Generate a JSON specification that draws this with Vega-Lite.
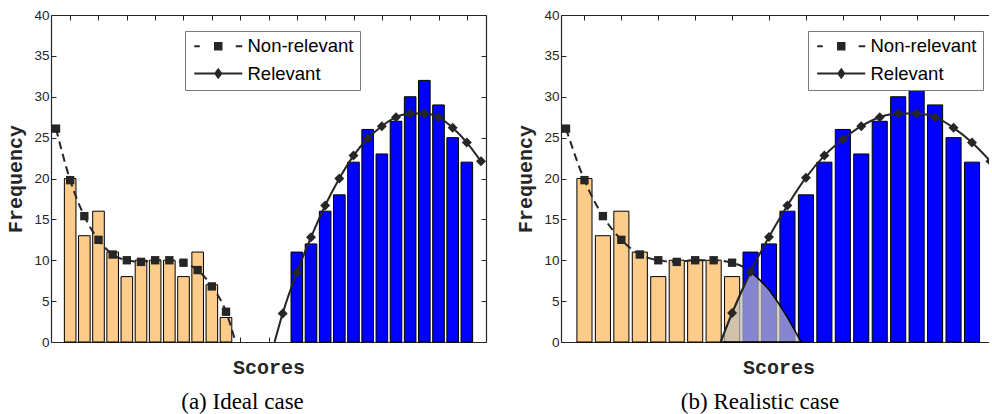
{
  "$schema": "https://vega.github.io/schema/vega-lite/v6.json",
  "padding": {"left": 5, "top": 8, "right": 0, "bottom": 0},
  "background": "white",
  "spacing": 28,
  "config": {
    "view": {"stroke": null},
    "axis": {
      "domainColor": "#262626", "domainWidth": 1.2, "tickColor": "#262626", "tickWidth": 1,
      "labelFont": "Liberation Sans", "labelFontSize": 13.5, "labelColor": "#262626",
      "titleFont": "Liberation Mono", "titleFontWeight": "bold", "titleFontSize": 20, "titleColor": "#262626",
      "grid": false
    },
    "legend": {
      "orient": "none", "title": null, "fillColor": "#ffffff", "strokeColor": "#7a7a7a",
      "padding": 6, "symbolSize": 100, "symbolOffset": 18, "labelOffset": 20, "rowPadding": 8.3,
      "labelFont": "Liberation Sans", "labelFontSize": 18.5, "labelColor": "#000000", "labelLimit": 300,
      "symbolStrokeWidth": 0, "symbolFillColor": "#262626", "symbolOpacity": 1, "zindex": 1
    }
  },
  "datasets": {
    "bars_a": [
      {"x": 1, "v": 20, "group": "Non-relevant"}, {"x": 2, "v": 13, "group": "Non-relevant"},
      {"x": 3, "v": 16, "group": "Non-relevant"}, {"x": 4, "v": 11, "group": "Non-relevant"},
      {"x": 5, "v": 8, "group": "Non-relevant"}, {"x": 6, "v": 10, "group": "Non-relevant"},
      {"x": 7, "v": 10, "group": "Non-relevant"}, {"x": 8, "v": 10, "group": "Non-relevant"},
      {"x": 9, "v": 8, "group": "Non-relevant"}, {"x": 10, "v": 11, "group": "Non-relevant"},
      {"x": 11, "v": 7, "group": "Non-relevant"}, {"x": 12, "v": 3, "group": "Non-relevant"},
      {"x": 17, "v": 11, "group": "Relevant"}, {"x": 18, "v": 12, "group": "Relevant"},
      {"x": 19, "v": 16, "group": "Relevant"}, {"x": 20, "v": 18, "group": "Relevant"},
      {"x": 21, "v": 22, "group": "Relevant"}, {"x": 22, "v": 26, "group": "Relevant"},
      {"x": 23, "v": 23, "group": "Relevant"}, {"x": 24, "v": 27, "group": "Relevant"},
      {"x": 25, "v": 30, "group": "Relevant"}, {"x": 26, "v": 32, "group": "Relevant"},
      {"x": 27, "v": 29, "group": "Relevant"}, {"x": 28, "v": 25, "group": "Relevant"},
      {"x": 29, "v": 22, "group": "Relevant"}
    ],
    "bars_b": [
      {"x": 1, "v": 20, "group": "Non-relevant"}, {"x": 2, "v": 13, "group": "Non-relevant"},
      {"x": 3, "v": 16, "group": "Non-relevant"}, {"x": 4, "v": 11, "group": "Non-relevant"},
      {"x": 5, "v": 8, "group": "Non-relevant"}, {"x": 6, "v": 10, "group": "Non-relevant"},
      {"x": 7, "v": 10, "group": "Non-relevant"}, {"x": 8, "v": 10, "group": "Non-relevant"},
      {"x": 9, "v": 8, "group": "Non-relevant"},
      {"x": 10, "v": 11, "group": "Relevant"}, {"x": 11, "v": 12, "group": "Relevant"},
      {"x": 12, "v": 16, "group": "Relevant"}, {"x": 13, "v": 18, "group": "Relevant"},
      {"x": 14, "v": 22, "group": "Relevant"}, {"x": 15, "v": 26, "group": "Relevant"},
      {"x": 16, "v": 23, "group": "Relevant"}, {"x": 17, "v": 27, "group": "Relevant"},
      {"x": 18, "v": 30, "group": "Relevant"}, {"x": 19, "v": 32, "group": "Relevant"},
      {"x": 20, "v": 29, "group": "Relevant"}, {"x": 21, "v": 25, "group": "Relevant"},
      {"x": 22, "v": 22, "group": "Relevant"}
    ],
    "nonrel_a": [
      {"x": 0, "v": 26.1, "marker": true}, {"x": 1, "v": 19.8, "marker": true},
      {"x": 2, "v": 15.4, "marker": true}, {"x": 3, "v": 12.5, "marker": true},
      {"x": 4, "v": 10.7, "marker": true}, {"x": 5, "v": 10.0, "marker": true},
      {"x": 6, "v": 9.8, "marker": true}, {"x": 7, "v": 10.0, "marker": true},
      {"x": 8, "v": 10.0, "marker": true}, {"x": 9, "v": 9.7, "marker": true},
      {"x": 10, "v": 8.8, "marker": true}, {"x": 11, "v": 6.8, "marker": true},
      {"x": 12, "v": 3.7, "marker": true}, {"x": 12.67, "v": 0, "marker": false}
    ],
    "rel_a": [
      {"x": 15.43, "v": 0, "marker": false}, {"x": 16, "v": 3.5, "marker": true},
      {"x": 17, "v": 8.5, "marker": true}, {"x": 18, "v": 12.8, "marker": true},
      {"x": 19, "v": 16.7, "marker": true}, {"x": 20, "v": 20.0, "marker": true},
      {"x": 21, "v": 22.8, "marker": true}, {"x": 22, "v": 24.9, "marker": true},
      {"x": 23, "v": 26.4, "marker": true}, {"x": 24, "v": 27.5, "marker": true},
      {"x": 25, "v": 27.95, "marker": true}, {"x": 26, "v": 27.95, "marker": true},
      {"x": 27, "v": 27.5, "marker": true}, {"x": 28, "v": 26.2, "marker": true},
      {"x": 29, "v": 24.4, "marker": true}, {"x": 30, "v": 22.1, "marker": true}
    ],
    "nonrel_b": [
      {"x": 0, "v": 26.1, "marker": true}, {"x": 1, "v": 19.8, "marker": true},
      {"x": 2, "v": 15.4, "marker": true}, {"x": 3, "v": 12.5, "marker": true},
      {"x": 4, "v": 10.7, "marker": true}, {"x": 5, "v": 10.0, "marker": true},
      {"x": 6, "v": 9.8, "marker": true}, {"x": 7, "v": 10.0, "marker": true},
      {"x": 8, "v": 10.0, "marker": true}, {"x": 9, "v": 9.7, "marker": true},
      {"x": 9.6, "v": 9.2, "marker": false}
    ],
    "rel_b": [
      {"x": 8.38, "v": 0, "marker": false}, {"x": 9, "v": 3.55, "marker": true},
      {"x": 10, "v": 8.6, "marker": true}, {"x": 11, "v": 12.85, "marker": true},
      {"x": 12, "v": 16.7, "marker": true}, {"x": 13, "v": 20.1, "marker": true},
      {"x": 14, "v": 22.8, "marker": true}, {"x": 15, "v": 24.8, "marker": true},
      {"x": 16, "v": 26.4, "marker": true}, {"x": 17, "v": 27.5, "marker": true},
      {"x": 18, "v": 27.95, "marker": true}, {"x": 19, "v": 27.95, "marker": true},
      {"x": 20, "v": 27.5, "marker": true}, {"x": 21, "v": 26.2, "marker": true},
      {"x": 22, "v": 24.4, "marker": true}, {"x": 23, "v": 22.1, "marker": true}
    ],
    "overlap_b": [
      {"x": 8.38, "v": 0}, {"x": 9, "v": 3.55}, {"x": 10, "v": 8.6}, {"x": 10.5, "v": 7.6},
      {"x": 11, "v": 6.4}, {"x": 11.5, "v": 4.8}, {"x": 12, "v": 3.0}, {"x": 12.4, "v": 1.4},
      {"x": 12.74, "v": 0}
    ],
    "series": [{"series": "Non-relevant"}, {"series": "Relevant"}]
  },
  "resolve": {
    "scale": {"shape": "independent"},
    "legend": {"shape": "independent"}
  },
  "hconcat": [
    {
      "width": 435, "height": 327,
      "resolve": {"axis": {"x": "independent", "y": "independent"}},
      "title": {"text": "(a) Ideal case", "orient": "bottom", "anchor": "middle", "frame": "group", "font": "Liberation Serif", "fontSize": 23, "fontWeight": "normal", "color": "#000000", "offset": 13, "dx": -26},
      "layer": [
        {
          "data": {"name": "bars_a"},
          "transform": [{"filter": "datum.group === 'Non-relevant'"}],
          "mark": {"type": "bar", "width": 11.6, "fill": "#fdcc8a", "stroke": "#000000", "strokeWidth": 1},
          "encoding": {
            "x": {"field": "x", "type": "quantitative", "scale": {"domain": [0, 30], "nice": false, "zero": false},
                  "axis": {"orient": "bottom", "labels": false, "values": [1,3,5,7,9,11,13,15,17,19,21,23,25,27,29], "tickSize": -5, "title": "Scores", "titlePadding": 15}},
            "y": {"field": "v", "type": "quantitative", "scale": {"domain": [0, 40], "nice": false},
                  "axis": {"orient": "left", "values": [0,5,10,15,20,25,30,35,40], "tickSize": -5, "labelPadding": 7, "title": "Frequency", "titlePadding": 8}}
          }
        },
        {
          "data": {"name": "bars_a"},
          "transform": [{"filter": "datum.group === 'Relevant'"}],
          "mark": {"type": "bar", "width": 11.6, "fill": "#0000ff", "stroke": "#000000", "strokeWidth": 1},
          "encoding": {
            "x": {"field": "x", "type": "quantitative", "scale": {"domain": [0, 30], "nice": false, "zero": false}, "axis": null},
            "y": {"field": "v", "type": "quantitative", "scale": {"domain": [0, 40], "nice": false}, "axis": null}
          }
        },
        {
          "data": {"name": "nonrel_a"},
          "mark": {"type": "line", "color": "#262626", "strokeWidth": 2, "strokeDash": [8, 5], "interpolate": "monotone"},
          "encoding": {
            "x": {"field": "x", "type": "quantitative", "scale": {"domain": [0, 30], "nice": false, "zero": false},
                  "axis": {"orient": "top", "labels": false, "values": [1,3,5,7,9,11,13,15,17,19,21,23,25,27,29], "tickSize": -5, "title": null}},
            "y": {"field": "v", "type": "quantitative", "scale": {"domain": [0, 40], "nice": false},
                  "axis": {"orient": "right", "labels": false, "values": [0,5,10,15,20,25,30,35,40], "tickSize": -5, "title": null}}
          }
        },
        {
          "data": {"name": "nonrel_a"},
          "transform": [{"filter": "datum.marker"}],
          "mark": {"type": "point", "shape": "square", "filled": true, "size": 70, "color": "#262626", "opacity": 1},
          "encoding": {
            "x": {"field": "x", "type": "quantitative", "scale": {"domain": [0, 30], "nice": false, "zero": false}, "axis": null},
            "y": {"field": "v", "type": "quantitative", "scale": {"domain": [0, 40], "nice": false}, "axis": null}
          }
        },
        {
          "data": {"name": "rel_a"},
          "mark": {"type": "line", "color": "#262626", "strokeWidth": 2, "interpolate": "monotone"},
          "encoding": {
            "x": {"field": "x", "type": "quantitative", "scale": {"domain": [0, 30], "nice": false, "zero": false}, "axis": null},
            "y": {"field": "v", "type": "quantitative", "scale": {"domain": [0, 40], "nice": false}, "axis": null}
          }
        },
        {
          "data": {"name": "rel_a"},
          "transform": [{"filter": "datum.marker"}],
          "mark": {"type": "point", "shape": "diamond", "filled": true, "size": 100, "color": "#262626", "opacity": 1},
          "encoding": {
            "x": {"field": "x", "type": "quantitative", "scale": {"domain": [0, 30], "nice": false, "zero": false}, "axis": null},
            "y": {"field": "v", "type": "quantitative", "scale": {"domain": [0, 40], "nice": false}, "axis": null}
          }
        },
        {
          "data": {"name": "series"},
          "transform": [{"filter": "false"}],
          "mark": {"type": "point", "filled": true, "fill": "#262626", "opacity": 1},
          "encoding": {
            "shape": {"field": "series", "type": "nominal",
                      "scale": {"domain": ["Non-relevant", "Relevant"], "range": ["M-4.8,-0.2H-3.7V0.2H-4.8ZM3.5,-0.2H4.8V0.2H3.5ZM-0.85,-0.85H0.85V0.85H-0.85Z", "M-4.8,-0.2H4.8V0.2H-4.8ZM0,-1.15L0.85,0L0,1.15L-0.85,0Z"]},
                      "legend": {"orient": "none", "legendX": 134, "legendY": 16}}
          }
        }
      ]
    },
    {
      "width": 428, "height": 327,
      "resolve": {"axis": {"x": "independent", "y": "independent"}},
      "title": {"text": "(b) Realistic case", "orient": "bottom", "anchor": "middle", "frame": "group", "font": "Liberation Serif", "fontSize": 23, "fontWeight": "normal", "color": "#000000", "offset": 13, "dx": -15},
      "layer": [
        {
          "data": {"name": "bars_b"},
          "transform": [{"filter": "datum.group === 'Non-relevant'"}],
          "mark": {"type": "bar", "width": 15.1, "fill": "#fdcc8a", "stroke": "#000000", "strokeWidth": 1},
          "encoding": {
            "x": {"field": "x", "type": "quantitative", "scale": {"domain": [0, 22.65], "nice": false, "zero": false},
                  "axis": {"orient": "bottom", "labels": false, "values": [1,3,5,7,9,11,13,15,17,19,21], "tickSize": -5, "title": "Scores", "titlePadding": 15, "titleX": 217.5}},
            "y": {"field": "v", "type": "quantitative", "scale": {"domain": [0, 40], "nice": false},
                  "axis": {"orient": "left", "values": [0,5,10,15,20,25,30,35,40], "tickSize": -5, "labelPadding": 7, "title": "Frequency", "titlePadding": 8}}
          }
        },
        {
          "data": {"name": "bars_b"},
          "transform": [{"filter": "datum.group === 'Relevant'"}],
          "mark": {"type": "bar", "width": 15.1, "fill": "#0000ff", "stroke": "#000000", "strokeWidth": 1},
          "encoding": {
            "x": {"field": "x", "type": "quantitative", "scale": {"domain": [0, 22.65], "nice": false, "zero": false}, "axis": null},
            "y": {"field": "v", "type": "quantitative", "scale": {"domain": [0, 40], "nice": false}, "axis": null}
          }
        },
        {
          "data": {"name": "overlap_b"},
          "mark": {"type": "area", "fill": "#bebebe", "fillOpacity": 0.7, "stroke": "#000000", "strokeWidth": 1.5, "interpolate": "linear"},
          "encoding": {
            "x": {"field": "x", "type": "quantitative", "scale": {"domain": [0, 22.65], "nice": false, "zero": false}, "axis": null},
            "y": {"field": "v", "type": "quantitative", "scale": {"domain": [0, 40], "nice": false}, "axis": null}
          }
        },
        {
          "data": {"name": "nonrel_b"},
          "mark": {"type": "line", "color": "#262626", "strokeWidth": 2, "strokeDash": [8, 5], "interpolate": "monotone"},
          "encoding": {
            "x": {"field": "x", "type": "quantitative", "scale": {"domain": [0, 22.65], "nice": false, "zero": false},
                  "axis": {"orient": "top", "labels": false, "values": [1,3,5,7,9,11,13,15,17,19,21], "tickSize": -5, "title": null}},
            "y": {"field": "v", "type": "quantitative", "scale": {"domain": [0, 40], "nice": false}, "axis": null}
          }
        },
        {
          "data": {"name": "nonrel_b"},
          "transform": [{"filter": "datum.marker"}],
          "mark": {"type": "point", "shape": "square", "filled": true, "size": 70, "color": "#262626", "opacity": 1},
          "encoding": {
            "x": {"field": "x", "type": "quantitative", "scale": {"domain": [0, 22.65], "nice": false, "zero": false}, "axis": null},
            "y": {"field": "v", "type": "quantitative", "scale": {"domain": [0, 40], "nice": false}, "axis": null}
          }
        },
        {
          "data": {"name": "rel_b"},
          "mark": {"type": "line", "color": "#262626", "strokeWidth": 2, "interpolate": "monotone", "clip": true},
          "encoding": {
            "x": {"field": "x", "type": "quantitative", "scale": {"domain": [0, 22.65], "nice": false, "zero": false}, "axis": null},
            "y": {"field": "v", "type": "quantitative", "scale": {"domain": [0, 40], "nice": false}, "axis": null}
          }
        },
        {
          "data": {"name": "rel_b"},
          "transform": [{"filter": "datum.marker"}],
          "mark": {"type": "point", "shape": "diamond", "filled": true, "size": 100, "color": "#262626", "opacity": 1, "clip": true},
          "encoding": {
            "x": {"field": "x", "type": "quantitative", "scale": {"domain": [0, 22.65], "nice": false, "zero": false}, "axis": null},
            "y": {"field": "v", "type": "quantitative", "scale": {"domain": [0, 40], "nice": false}, "axis": null}
          }
        },
        {
          "data": {"name": "series"},
          "transform": [{"filter": "false"}],
          "mark": {"type": "point", "filled": true, "fill": "#262626", "opacity": 1},
          "encoding": {
            "shape": {"field": "series", "type": "nominal",
                      "scale": {"domain": ["Non-relevant", "Relevant"], "range": ["M-4.8,-0.2H-3.7V0.2H-4.8ZM3.5,-0.2H4.8V0.2H3.5ZM-0.85,-0.85H0.85V0.85H-0.85Z", "M-4.8,-0.2H4.8V0.2H-4.8ZM0,-1.15L0.85,0L0,1.15L-0.85,0Z"]},
                      "legend": {"orient": "none", "legendX": 247, "legendY": 16}}
          }
        }
      ]
    }
  ]
}
